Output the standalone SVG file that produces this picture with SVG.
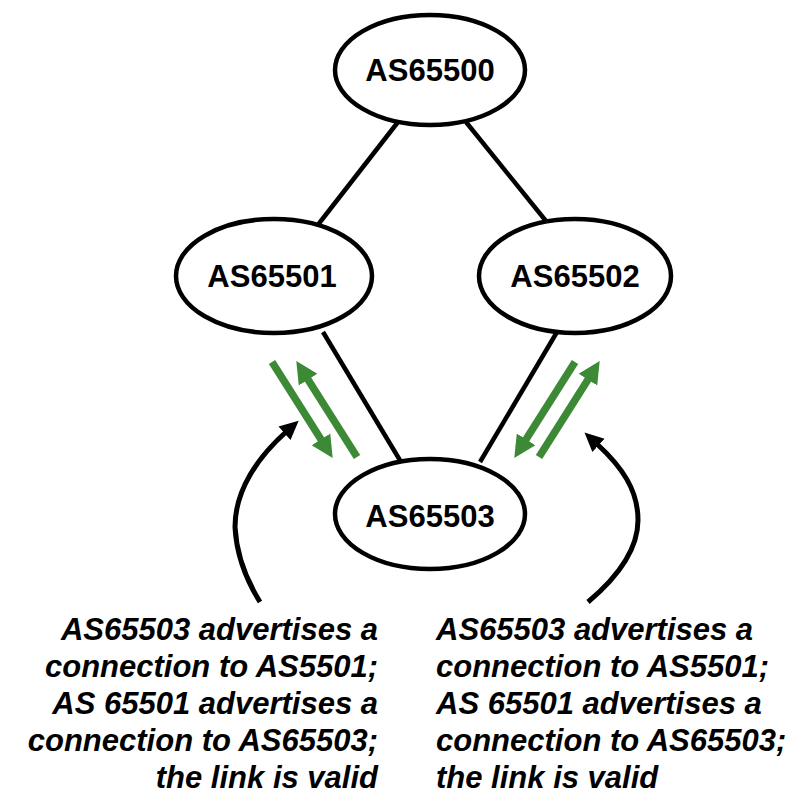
<svg xmlns="http://www.w3.org/2000/svg" width="812" height="797" viewBox="0 0 812 797">
  <style>
    .link { stroke: #000; stroke-width: 4.5; fill: none; }
    .node ellipse { fill: #fff; stroke: #000; stroke-width: 4.5; }
    .node text { font-family: "Liberation Sans", Arial, sans-serif; font-weight: bold; font-size: 31px; text-anchor: middle; fill: #000; }
    .adv { stroke: #3c8a36; stroke-width: 7.5; fill: none; }
    .note { stroke: #000; stroke-width: 5; fill: none; }
    .caption { font-family: "Liberation Sans", Arial, sans-serif; font-weight: bold; font-style: italic; font-size: 31px; fill: #000; }
  </style>
  <defs>
    <marker id="greenHead" markerUnits="userSpaceOnUse" markerWidth="24" markerHeight="24" refX="2" refY="11" orient="auto" viewBox="0 0 24 22">
      <path d="M0,0 L22,11 L0,22 Z" fill="#3c8a36"/>
    </marker>
    <marker id="blackHead" markerUnits="userSpaceOnUse" markerWidth="20" markerHeight="20" refX="2" refY="9" orient="auto" viewBox="0 0 20 18">
      <path d="M0,0 L19,9 L0,18 Z" fill="#000"/>
    </marker>
  </defs>

  <!-- peering links -->
  <g id="connectors">
    <line class="link" x1="398" y1="122" x2="317" y2="226"/>
    <line class="link" x1="466" y1="122" x2="550" y2="226"/>
    <line class="link" x1="323" y1="332" x2="401" y2="462"/>
    <line class="link" x1="557" y1="332" x2="480" y2="462"/>

    <!-- route advertisements on the AS65501 link -->
    <line class="adv" x1="272" y1="362" x2="322" y2="441" marker-end="url(#greenHead)"/>
    <line class="adv" x1="357" y1="457" x2="307" y2="378" marker-end="url(#greenHead)"/>
    <!-- route advertisements on the AS65502 link -->
    <line class="adv" x1="575" y1="362" x2="525" y2="441" marker-end="url(#greenHead)"/>
    <line class="adv" x1="539" y1="457" x2="589" y2="378" marker-end="url(#greenHead)"/>

    <!-- caption pointers -->
    <path class="note" d="M260,602 Q237,565 235,527 C235,490 258,457 286,432" marker-end="url(#blackHead)"/>
    <path class="note" d="M588,602 Q638,560 638,520 C638,490 622,467 597,444" marker-end="url(#blackHead)"/>
  </g>

  <g id="as65500" class="node">
    <ellipse cx="430" cy="70" rx="95" ry="55"/>
    <text x="430" y="81">AS65500</text>
  </g>
  <g id="as65501" class="node">
    <ellipse cx="274" cy="276" rx="98" ry="57"/>
    <text x="272" y="287">AS65501</text>
  </g>
  <g id="as65502" class="node">
    <ellipse cx="575" cy="276" rx="96" ry="57"/>
    <text x="575" y="287">AS65502</text>
  </g>
  <g id="as65503" class="node">
    <ellipse cx="430" cy="514" rx="95" ry="55"/>
    <text x="430" y="527">AS65503</text>
  </g>

  <g id="caption-left" class="caption" text-anchor="end">
    <text x="378" y="640">AS65503 advertises a</text>
    <text x="378" y="677">connection to AS5501;</text>
    <text x="378" y="714">AS 65501 advertises a</text>
    <text x="378" y="751">connection to AS65503;</text>
    <text x="378" y="788">the link is valid</text>
  </g>
  <g id="caption-right" class="caption">
    <text x="436" y="640">AS65503 advertises a</text>
    <text x="436" y="677">connection to AS5501;</text>
    <text x="436" y="714">AS 65501 advertises a</text>
    <text x="436" y="751">connection to AS65503;</text>
    <text x="436" y="788">the link is valid</text>
  </g>
</svg>
